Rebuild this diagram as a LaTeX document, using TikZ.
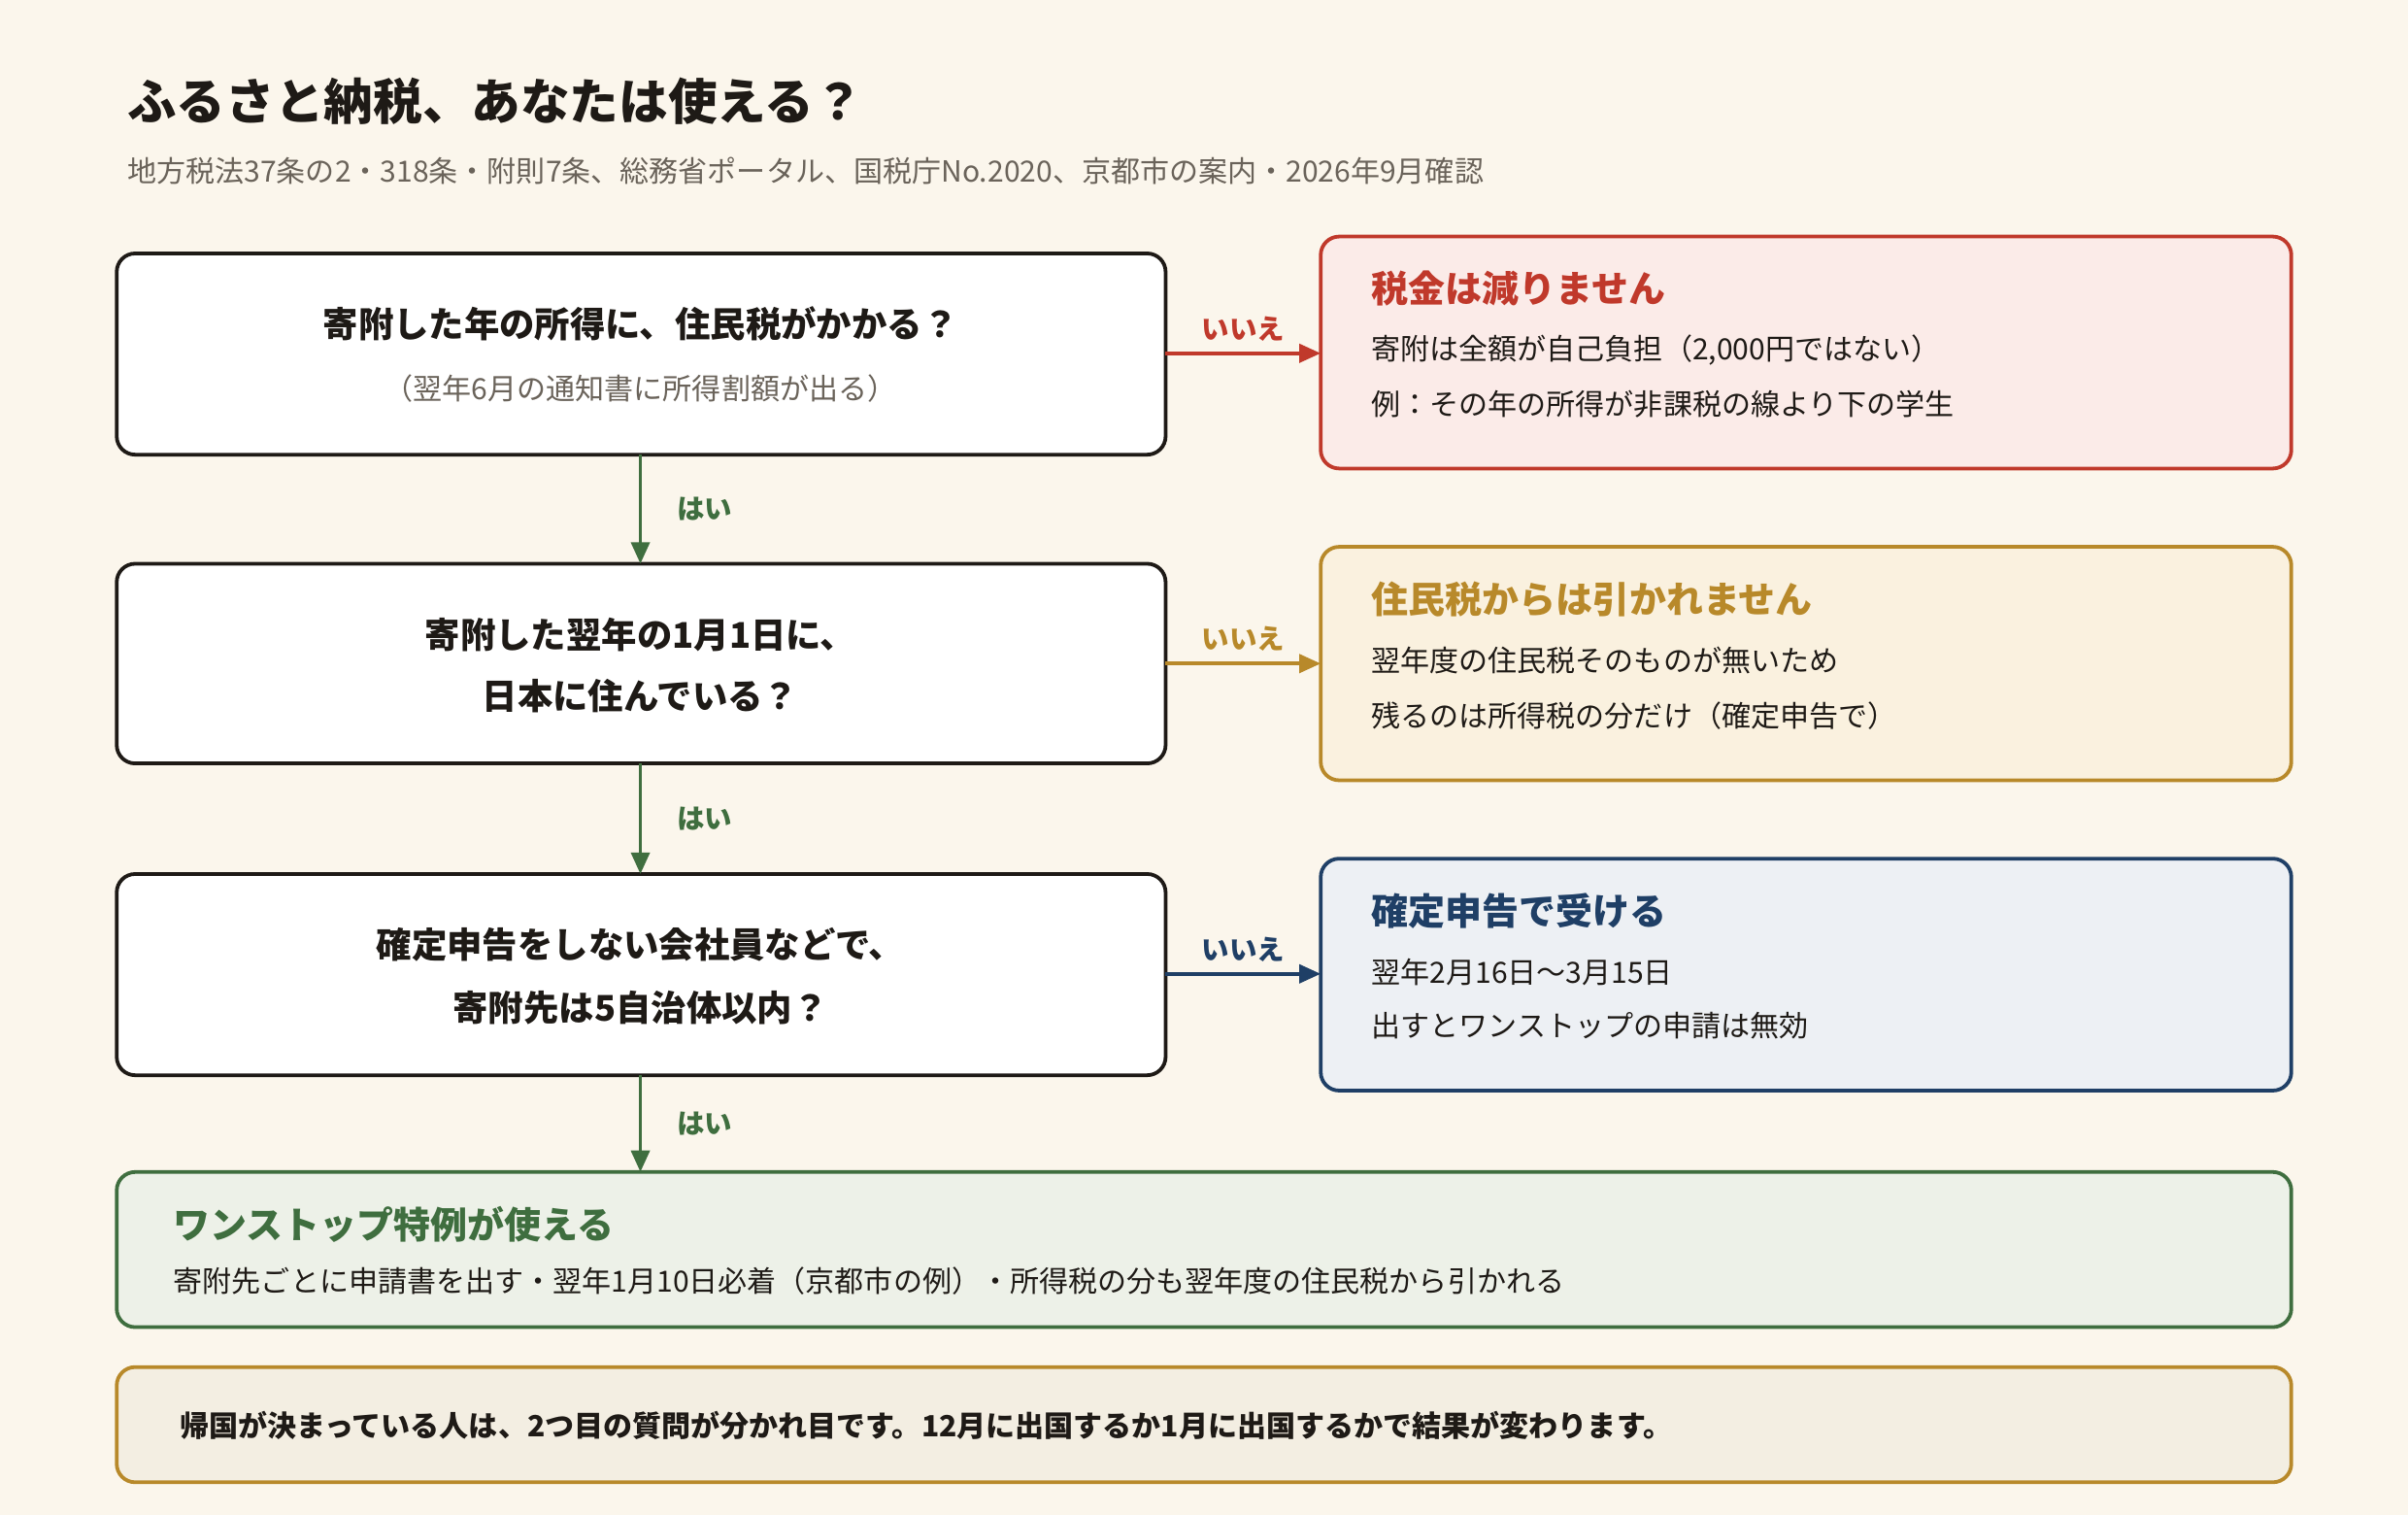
\documentclass[tikz,border=0pt]{standalone}
\usepackage{fontspec}
\setmainfont{Noto Sans CJK JP}
\usetikzlibrary{arrows.meta}
\definecolor{bg}{HTML}{FBF6EC}
\definecolor{ink}{HTML}{1E1A16}
\definecolor{sub}{HTML}{6A635A}
\definecolor{red}{HTML}{C0392B}\definecolor{redf}{HTML}{FBEBE8}
\definecolor{gold}{HTML}{B8892A}\definecolor{goldf}{HTML}{FAF1DF}
\definecolor{navy}{HTML}{1F3F66}\definecolor{navyf}{HTML}{EDF0F4}
\definecolor{grn}{HTML}{3F6E3F}\definecolor{grnf}{HTML}{EDF1E8}
\definecolor{notef}{HTML}{F3EEE2}
\tikzset{
 box/.style={draw, line width=1.2pt, rounded corners=6pt},
 q/.style={font=\fontsize{11.5}{14}\selectfont\bfseries, text=ink, align=center},
 qs/.style={font=\fontsize{9.5}{12}\selectfont, text=sub},
 rt/.style={font=\fontsize{12}{14}\selectfont\bfseries, anchor=west},
 rb/.style={font=\fontsize{9.5}{12}\selectfont, text=ink, anchor=west},
 arr/.style={line width=1.2pt, -{Triangle[length=7pt,width=6pt]}},
 lab/.style={font=\fontsize{9}{11}\selectfont\bfseries},
}
\begin{document}
\begin{tikzpicture}[x=0.5pt,y=-0.5pt]
\fill[bg] (0,0) rectangle (1568,986);
\useasboundingbox (0,0) rectangle (1568,986);
\node[anchor=west, font=\fontsize{16}{18}\selectfont\bfseries, text=ink] (title) at (76,66) {ふるさと納税、あなたは使える？};
\node[anchor=west, font=\fontsize{9.5}{12}\selectfont, text=sub] (src) at (76,111) {地方税法37条の2・318条・附則7条、総務省ポータル、国税庁No.2020、京都市の案内・2026年9月確認};
% question boxes
\draw[box, ink, fill=white] (76,165) rectangle (759,296);
\draw[box, ink, fill=white] (76,367) rectangle (759,497);
\draw[box, ink, fill=white] (76,569) rectangle (759,700);
\coordinate (b1r) at (759,230); \coordinate (b2r) at (759,432); \coordinate (b3r) at (759,634);
\coordinate (b1b) at (417,296); \coordinate (b2t) at (417,367);
\coordinate (b2b) at (417,497); \coordinate (b3t) at (417,569);
\coordinate (b3b) at (417,700); \coordinate (gt) at (417,763);
\node[q] (q1) at (417,211) {寄附した年の所得に、住民税がかかる？};
\node[qs] (q1s) at (417,253) {（翌年6月の通知書に所得割額が出る）};
\node[q] (q2a) at (417,413) {寄附した翌年の1月1日に、};
\node[q] (q2b) at (417,453) {日本に住んでいる？};
\node[q] (q3a) at (417,615) {確定申告をしない会社員などで、};
\node[q] (q3b) at (417,656) {寄附先は5自治体以内？};
% result boxes
\draw[box, red, fill=redf] (860,154) rectangle (1492,305);
\draw[box, gold, fill=goldf] (860,356) rectangle (1492,508);
\draw[box, navy, fill=navyf] (860,559) rectangle (1492,710);
\coordinate (r1) at (860,230); \coordinate (r2) at (860,432); \coordinate (r3) at (860,634);
\node[rt, text=red] (t1) at (886,188) {税金は減りません};
\node[rb] (t1a) at (886,228) {寄附は全額が自己負担（2,000円ではない）};
\node[rb] (t1b) at (886,263) {例：その年の所得が非課税の線より下の学生};
\node[rt, text=gold] (t2) at (886,390) {住民税からは引かれません};
\node[rb] (t2a) at (886,430) {翌年度の住民税そのものが無いため};
\node[rb] (t2b) at (886,466) {残るのは所得税の分だけ（確定申告で）};
\node[rt, text=navy] (t3) at (886,593) {確定申告で受ける};
\node[rb] (t3a) at (886,633) {翌年2月16日〜3月15日};
\node[rb] (t3b) at (886,668) {出すとワンストップの申請は無効};
% green
\draw[box, grn, fill=grnf] (76,763) rectangle (1492,864);
\node[rt, text=grn] (g) at (106,797) {ワンストップ特例が使える};
\node[rb] (ga) at (106,834) {寄附先ごとに申請書を出す・翌年1月10日必着（京都市の例）・所得税の分も翌年度の住民税から引かれる};
% note
\draw[box, gold, fill=notef] (76,890) rectangle (1492,965);
\node[anchor=west, font=\fontsize{9.5}{12}\selectfont\bfseries, text=ink] (n) at (110,928) {帰国が決まっている人は、2つ目の質問が分かれ目です。12月に出国するか1月に出国するかで結果が変わります。};
% arrows
\draw[arr, red] (b1r) -- node[lab, above, text=red] {いいえ} (r1);
\draw[arr, gold] (b2r) -- node[lab, above, text=gold] {いいえ} (r2);
\draw[arr, navy] (b3r) -- node[lab, above, text=navy] {いいえ} (r3);
\draw[arr, grn] (b1b) -- node[lab, right=8pt, text=grn] {はい} (b2t);
\draw[arr, grn] (b2b) -- node[lab, right=8pt, text=grn] {はい} (b3t);
\draw[arr, grn] (b3b) -- node[lab, right=8pt, text=grn] {はい} (gt);
\end{tikzpicture}
\end{document}
